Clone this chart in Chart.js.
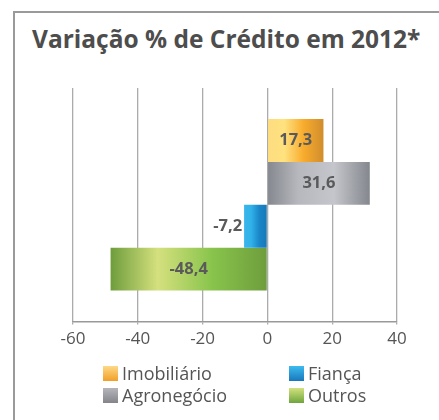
<!DOCTYPE html>
<html>
<head>
<meta charset="utf-8">
<script src="https://cdn.jsdelivr.net/npm/chart.js@4/dist/chart.umd.min.js"></script>
<style>
  html, body { margin: 0; padding: 0; background: #fff; }
  #wrap { position: relative; width: 439px; height: 420px; overflow: hidden; font-family: "Open Sans", sans-serif; }
  #frame { position: absolute; left: 13px; top: 11px; width: 440px; height: 420px; border-top: 2.5px solid #9a9a9a; border-left: 2.5px solid #9a9a9a; }
  #title { position: absolute; left: 32px; top: 22px; font-size: 24.5px; font-weight: bold; color: #4d4d4d; white-space: nowrap; letter-spacing: 0; }
  #chart { position: absolute; left: 0; top: 0; }
  .leg { position: absolute; font-size: 18px; color: #555; white-space: nowrap; line-height: 22px; }
  .leg span.box { display: inline-block; width: 15px; height: 15px; vertical-align: -1px; margin-right: 4px; }
</style>
</head>
<body>
<div id="wrap">
  <div id="frame"></div>
  <div id="title">Variação % de Crédito em 2012*</div>
  <canvas id="chart" width="439" height="420"></canvas>
  <div id="legend"></div>
</div>
<script>
const seriesNames = ['Imobiliário', 'Agronegócio', 'Fiança', 'Outros'];
const seriesValues = [17.3, 31.6, -7.2, -48.4];
const tickValues = [-60, -40, -20, 0, 20, 40];

// gradient stops for each bar, left to right
const barStops = [
    ['#fddc80', '#ffe27f', '#f8ab2c', '#d08d2d'],
    ['#85878e', '#b6b8be', '#c4c6cc', '#85878e'],
    ['#3ab6ea', '#30b2e9', '#1a86c8', '#1877b8'],
    ['#6e9d3c', '#d5e07e', '#88c44c', '#6e9d3c']
];
const legendStops = [
    ['#fdd987', '#f29f27'],
    ['#b4b6bb', '#83858b'],
    ['#3cbbef', '#1978bb'],
    ['#d2e27e', '#6fa53d']
];

function makeGradient(i) {
    return function (ctx) {
        const chart = ctx.chart;
        const x = chart.scales.x;
        if (!chart.chartArea || !x) return barStops[i][2];
        const p0 = x.getPixelForValue(0);
        const p1 = x.getPixelForValue(ctx.raw);
        const g = chart.ctx.createLinearGradient(Math.min(p0, p1), 0, Math.max(p0, p1), 0);
        const s = barStops[i];
        g.addColorStop(0, s[0]);
        g.addColorStop(0.3, s[1]);
        g.addColorStop(0.65, s[2]);
        g.addColorStop(1, s[3]);
        return g;
    };
}

const datasets = seriesNames.map((name, i) => ({
    label: name,
    data: [seriesValues[i]],
    backgroundColor: makeGradient(i),
    borderWidth: 0,
    barPercentage: 1,
    categoryPercentage: 0.734
}));

// value labels: inside the bar, or left of it when the bar is too short
const valueLabels = {
    id: 'valueLabels',
    afterDatasetsDraw(chart) {
        const c = chart.ctx;
        c.save();
        c.font = 'bold 16.5px "Open Sans"';
        c.fillStyle = '#5a5a5a';
        c.textBaseline = 'middle';
        chart.data.datasets.forEach((ds, i) => {
            const el = chart.getDatasetMeta(i).data[0];
            const v = ds.data[0];
            const txt = v.toFixed(1).replace('.', ',');
            const w = Math.abs(el.x - el.base);
            if (w > 50) {
                c.textAlign = 'center';
                c.fillText(txt, (el.x + el.base) / 2, el.y);
            } else {
                c.textAlign = 'right';
                c.fillText(txt, Math.min(el.x, el.base) - 2, el.y);
            }
        });
        c.restore();
    }
};

new Chart(document.getElementById('chart'), {
    type: 'bar',
    data: { labels: [''], datasets: datasets },
    plugins: [valueLabels],
    options: {
        indexAxis: 'y',
        responsive: false,
        animation: false,
        events: [],
        layout: { padding: { left: 73, right: 42, top: 88, bottom: 67 } },
        plugins: { legend: { display: false }, tooltip: { enabled: false } },
        scales: {
            x: {
                min: tickValues[0],
                max: tickValues[tickValues.length - 1],
                afterBuildTicks: axis => { axis.ticks = tickValues.map(v => ({ value: v })); },
                grid: { color: '#ababab', lineWidth: 1.3, tickLength: 3, drawOnChartArea: true },
                border: { color: '#999', width: 1.5 },
                ticks: { color: '#555', padding: 4, font: { family: 'Open Sans', size: 17 } }
            },
            y: { display: false, grid: { display: false } }
        }
    }
});

// legend laid out in two columns like the original
const legendOrder = [0, 2, 1, 3];
const legendPos = [[103, 362], [289, 362], [103, 384], [289, 384]];
const legendEl = document.getElementById('legend');
legendOrder.forEach((idx, k) => {
    const d = document.createElement('div');
    d.className = 'leg';
    d.style.left = legendPos[k][0] + 'px';
    d.style.top = legendPos[k][1] + 'px';
    const s = legendStops[idx];
    d.innerHTML = '<span class="box" style="background:linear-gradient(' + s[0] + ',' + s[1] + ')"></span>' + seriesNames[idx];
    legendEl.appendChild(d);
});
</script>
</body>
</html>
